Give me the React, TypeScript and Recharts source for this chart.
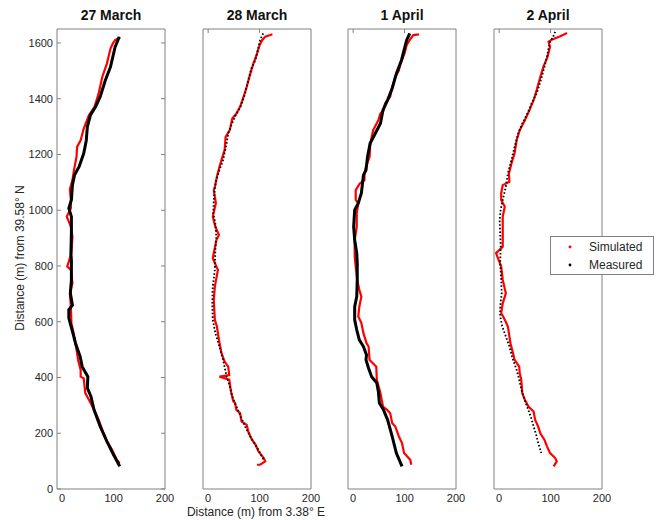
import { ScatterChart, Scatter, XAxis, YAxis, ReferenceArea } from 'recharts';

// axes
const X_DOMAIN: [number, number] = [-10, 200];
const Y_DOMAIN: [number, number] = [0, 1650];
const X_TICKS = [0, 100, 200];
const Y_TICKS = [0, 200, 400, 600, 800, 1000, 1200, 1400, 1600];
const PANEL_TITLES = ['27 March', '28 March', '1 April', '2 April'];

// [x (m) from 3.38 E, y (m) from 39.58 N], read from the top of the track down
const sim27March: [number, number][] = [
  [113, 1620], [103, 1610], [99, 1600], [94, 1580], [87, 1526], [78, 1478], [71, 1419], [63, 1371],
  [52, 1341], [42, 1293], [36, 1251], [29, 1227], [28, 1192], [23, 1144], [20, 1108], [15, 1075],
  [17, 1037], [17, 1007], [9, 977], [17, 941], [20, 905], [18, 846], [10, 798], [17, 786],
  [20, 738], [15, 702], [17, 654], [18, 595], [23, 553], [28, 499], [31, 463], [36, 427],
  [36, 403], [42, 397], [45, 344], [52, 320], [62, 284], [71, 248], [78, 213], [87, 171],
  [97, 141], [106, 105], [112, 93],
];
const meas27March: [number, number][] = [
  [111, 1622], [103, 1586], [94, 1514], [84, 1466], [74, 1407], [65, 1371], [55, 1341], [49, 1299],
  [47, 1251], [42, 1204], [33, 1156], [24, 1126], [20, 1090], [18, 1037], [13, 1007], [18, 977],
  [18, 917], [17, 846], [18, 822], [18, 750], [16, 702], [20, 660], [13, 643], [13, 613],
  [20, 565], [26, 523], [35, 475], [39, 439], [50, 403], [49, 362], [56, 332], [62, 284],
  [74, 224], [87, 171], [100, 123], [112, 81],
];

const sim28March: [number, number][] = [
  [125, 1631], [111, 1622], [105, 1610], [100, 1592], [95, 1562], [88, 1526], [82, 1490], [75, 1443],
  [69, 1407], [62, 1371], [55, 1347], [47, 1329], [42, 1287], [34, 1263], [32, 1216], [28, 1192],
  [22, 1156], [17, 1120], [13, 1084], [11, 1072], [15, 1025], [9, 977], [14, 941], [21, 911],
  [16, 893], [9, 828], [16, 798], [19, 786], [13, 726], [11, 678], [13, 607], [17, 583],
  [21, 535], [26, 487], [32, 457], [39, 439], [41, 409], [22, 403], [41, 392], [45, 344],
  [49, 314], [52, 310], [55, 284], [62, 272], [65, 242], [75, 230], [78, 206], [85, 177],
  [92, 159], [98, 135], [108, 111], [111, 99], [101, 87], [95, 87],
];
const meas28March: [number, number][] = [
  [107, 1634], [101, 1610], [98, 1586], [92, 1538], [85, 1514], [78, 1466], [72, 1419], [63, 1371],
  [52, 1335], [45, 1305], [39, 1275], [36, 1240], [29, 1180], [22, 1144], [16, 1108], [13, 1078],
  [11, 1037], [10, 989], [14, 953], [16, 905], [14, 857], [13, 786], [9, 726], [8, 666],
  [9, 607], [14, 559], [22, 511], [29, 463], [36, 403], [42, 368], [47, 332], [55, 296],
  [62, 266], [72, 224], [82, 188], [92, 159], [101, 129], [108, 105],
];

const sim1April: [number, number][] = [
  [128, 1631], [117, 1628], [112, 1616], [104, 1592], [100, 1562], [92, 1526], [89, 1502], [82, 1478],
  [76, 1443], [72, 1407], [62, 1383], [59, 1359], [53, 1347], [49, 1323], [39, 1287], [36, 1263],
  [33, 1227], [32, 1192], [25, 1156], [22, 1132], [22, 1108], [13, 1096], [5, 1072], [5, 1037],
  [10, 1025], [7, 989], [7, 941], [3, 893], [3, 834], [5, 798], [8, 750], [12, 714],
  [16, 690], [12, 654], [10, 619], [16, 595], [20, 559], [26, 523], [30, 511], [32, 463],
  [45, 439], [46, 392], [53, 344], [58, 296], [66, 284], [72, 272], [76, 236], [82, 224],
  [89, 188], [95, 165], [99, 129], [111, 105], [113, 87],
];
const meas1April: [number, number][] = [
  [110, 1634], [104, 1610], [99, 1574], [94, 1538], [84, 1490], [76, 1437], [67, 1395], [58, 1359],
  [53, 1311], [43, 1275], [33, 1240], [28, 1192], [25, 1144], [20, 1126], [16, 1061], [10, 1025],
  [3, 1001], [1, 941], [3, 893], [7, 846], [8, 810], [8, 750], [7, 690], [3, 654],
  [3, 607], [7, 571], [12, 535], [20, 511], [26, 481], [25, 463], [30, 433], [36, 403],
  [46, 380], [49, 350], [51, 308], [59, 284], [67, 248], [76, 188], [84, 129], [95, 81],
];

const sim2April: [number, number][] = [
  [132, 1636], [119, 1624], [103, 1612], [96, 1604], [99, 1586], [94, 1550], [86, 1514], [80, 1478],
  [73, 1431], [67, 1395], [59, 1359], [50, 1323], [40, 1287], [34, 1251], [30, 1204], [24, 1168],
  [19, 1132], [20, 1102], [7, 1090], [4, 1061], [4, 1037], [11, 1013], [7, 977], [7, 917],
  [7, 869], [-6, 846], [4, 798], [7, 750], [13, 702], [7, 666], [4, 631], [11, 607],
  [17, 583], [19, 559], [22, 523], [27, 487], [30, 463], [39, 439], [40, 415], [43, 392],
  [45, 344], [50, 320], [57, 296], [67, 278], [70, 248], [76, 224], [80, 200], [88, 177],
  [93, 153], [99, 129], [109, 111], [112, 99], [106, 81],
];
const meas2April: [number, number][] = [
  [109, 1640], [105, 1622], [99, 1604], [96, 1580], [93, 1550], [88, 1514], [81, 1466], [73, 1419],
  [63, 1383], [55, 1347], [45, 1311], [37, 1275], [30, 1227], [24, 1180], [17, 1132], [13, 1084],
  [7, 1037], [3, 1001], [1, 965], [2, 917], [3, 869], [2, 810], [4, 750], [5, 702],
  [2, 654], [2, 619], [6, 583], [13, 547], [20, 511], [25, 475], [34, 427], [39, 392],
  [45, 344], [52, 308], [59, 272], [63, 251], [67, 224], [72, 195], [76, 165], [82, 129],
];

const W = 657;
const H = 520;
const PLOT_TOP = 29;
const PLOT_W = 108;
const PLOT_H = 460;
const PANEL_LEFT = [57, 203, 348, 494];
const FONT = '"Liberation Sans", Arial, sans-serif';
const TEXT = '#262626';
const FRAME = '#808080';

const toPts = (arr: [number, number][]) => arr.map(([x, y]) => ({ x, y }));
const noDot = () => <g />;

function XTick(props: any) {
  const { x, y, payload, topTicks } = props;
  return (
    <g>
      {topTicks && payload.value < 200 && (
        <line x1={x} x2={x} y1={y - PLOT_H} y2={y - PLOT_H + 4} stroke={FRAME} />
      )}
      <text x={x} y={y + 13} textAnchor="middle" fontSize={11} fontFamily={FONT} fill={TEXT}>
        {payload.value}
      </text>
    </g>
  );
}

function YTick(props: any) {
  const { x, y, payload } = props;
  return (
    <g>
      <line x1={x} x2={x + 4} y1={y} y2={y} stroke={FRAME} />
      <line x1={x + PLOT_W} x2={x + PLOT_W - 4} y1={y} y2={y} stroke={FRAME} />
      <text x={x - 4} y={y + 4} textAnchor="end" fontSize={11} fontFamily={FONT} fill={TEXT}>
        {payload.value}
      </text>
    </g>
  );
}

type PanelProps = {
  left: number;
  sim: [number, number][];
  meas: [number, number][];
  dotted: boolean;
  showY: boolean;
  topTicks: boolean;
};

function Panel({ left, sim, meas, dotted, showY, topTicks }: PanelProps) {
  const measLine = dotted
    ? { stroke: '#000', strokeWidth: 1.8, strokeDasharray: '1.6 2' }
    : { stroke: '#000', strokeWidth: 3 };
  // axes get 1px so they are drawn; margins take that pixel back
  const axisW = showY ? 1 : 0;
  return (
    <div style={{ position: 'absolute', left: 0, top: 0 }}>
      <ScatterChart
        width={W}
        height={H}
        margin={{
          top: PLOT_TOP,
          left: left - axisW,
          right: W - left - PLOT_W,
          bottom: H - PLOT_TOP - PLOT_H - 1,
        }}
      >
        <XAxis
          type="number"
          dataKey="x"
          domain={X_DOMAIN}
          ticks={X_TICKS}
          interval={0}
          height={1}
          tickSize={0}
          tickMargin={0}
          tickLine={false}
          axisLine={false}
          allowDataOverflow
          tick={(p: any) => <XTick {...p} topTicks={topTicks} />}
        />
        <YAxis
          type="number"
          dataKey="y"
          domain={Y_DOMAIN}
          ticks={Y_TICKS}
          interval={0}
          width={1}
          tickSize={0}
          tickMargin={0}
          tickLine={false}
          axisLine={false}
          allowDataOverflow
          hide={!showY}
          tick={(p: any) => <YTick {...p} />}
        />
        <ReferenceArea
          x1={X_DOMAIN[0]}
          x2={X_DOMAIN[1]}
          y1={Y_DOMAIN[0]}
          y2={Y_DOMAIN[1]}
          fill="none"
          fillOpacity={0}
          stroke={FRAME}
          strokeWidth={1}
          ifOverflow="visible"
        />
        <Scatter
          data={toPts(sim)}
          fill="#ff0000"
          line={{ stroke: '#ff0000', strokeWidth: 2.2 }}
          shape={noDot}
          isAnimationActive={false}
        />
        <Scatter data={toPts(meas)} fill="#000" line={measLine} shape={noDot} isAnimationActive={false} />
      </ScatterChart>
    </div>
  );
}

export default function App() {
  return (
    <div style={{ position: 'absolute', left: 0, top: 0, width: W, height: H, background: '#fff', overflow: 'hidden' }}>
      <Panel left={PANEL_LEFT[0]} sim={sim27March} meas={meas27March} dotted={false} showY topTicks={false} />
      <Panel left={PANEL_LEFT[1]} sim={sim28March} meas={meas28March} dotted showY={false} topTicks />
      <Panel left={PANEL_LEFT[2]} sim={sim1April} meas={meas1April} dotted={false} showY={false} topTicks />
      <Panel left={PANEL_LEFT[3]} sim={sim2April} meas={meas2April} dotted showY={false} topTicks />
      <svg width={W} height={H} style={{ position: 'absolute', left: 0, top: 0 }} fontFamily={FONT}>
        {PANEL_TITLES.map((t, i) => (
          <text key={t} x={PANEL_LEFT[i] + PLOT_W / 2} y={20} textAnchor="middle" fontSize={14} fontWeight="bold" fill="#111">
            {t}
          </text>
        ))}
        <text x={256} y={516} textAnchor="middle" fontSize={12} fill={TEXT}>
          Distance (m) from 3.38° E
        </text>
        <text transform="translate(24 258) rotate(-90)" textAnchor="middle" fontSize={12} fill={TEXT}>
          Distance (m) from 39.58° N
        </text>
        <rect x={550.5} y={236.5} width={103} height={38} fill="#fff" stroke={FRAME} />
        <circle cx={570} cy={247} r={1.4} fill="#ff0000" />
        <circle cx={570} cy={265} r={1.4} fill="#000" />
        <text x={589} y={251} fontSize={12} fill={TEXT}>Simulated</text>
        <text x={589} y={269} fontSize={12} fill={TEXT}>Measured</text>
      </svg>
    </div>
  );
}
